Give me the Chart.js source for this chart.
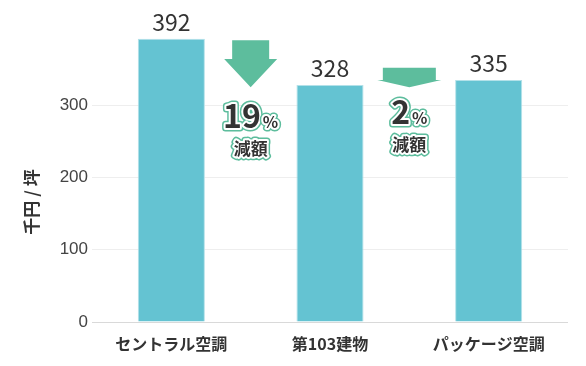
<!DOCTYPE html>
<html lang="ja">
<head>
    <meta charset="UTF-8">
    <title>千円 / 坪</title>
    <script src="https://cdn.jsdelivr.net/npm/chart.js"></script>
    <style>
        body {
            margin: 0;
            background: #ffffff;
        }
        #wrap {
            width: 586px;
            height: 366px;
        }
    </style>
</head>
<body>
<div id="wrap">
    <canvas id="cost-chart" width="586" height="366"></canvas>
</div>
<script>
    // values
    const categories = ["セントラル空調", "第103建物", "パッケージ空調"];
    const costPerTsubo = [392, 328, 335];
    const yTicks = [0, 100, 200, 300];

    // reduction callouts between neighbouring bars
    const reductionPercent = ["19", "2"];
    const reductionWord = "減額";
    const arrowTop = [390, 352];
    const arrowHeadStart = [364, 335];
    const arrowTip = [325, 325];

    const JP = '"Noto Sans CJK JP", "Noto Sans", sans-serif';
    const TEXT = "#333333";
    const GREEN = "#5dbd9d";

    // arrow shapes, in px: shaft half width, head half width, label offset below tip
    const arrowStyle = [
        {shaft: 18.5, head: 26.5, labelDrop: 41},
        {shaft: 26.5, head: 32, labelDrop: 37}
    ];

    function outlinedText(ctx, text, x, y) {
        ctx.lineJoin = "round";
        ctx.strokeStyle = GREEN;
        ctx.lineWidth = 7;
        ctx.strokeText(text, x, y);
        ctx.strokeStyle = "#ffffff";
        ctx.lineWidth = 4;
        ctx.strokeText(text, x, y);
        ctx.fillStyle = TEXT;
        ctx.fillText(text, x, y);
    }

    const callouts = {
        id: "callouts",
        afterDatasetsDraw(chart) {
            const ctx = chart.ctx;
            const xs = chart.scales.x;
            const ys = chart.scales.y;

            // value labels on top of bars
            ctx.save();
            ctx.font = "400 23px " + JP;
            ctx.fillStyle = TEXT;
            ctx.textAlign = "center";
            ctx.textBaseline = "alphabetic";
            chart.getDatasetMeta(0).data.forEach((bar, i) => {
                ctx.fillText(String(costPerTsubo[i]), bar.x, bar.y - 8);
            });
            ctx.restore();

            // arrows and percent labels
            reductionPercent.forEach((pct, i) => {
                const st = arrowStyle[i];
                const cx = xs.getPixelForValue(i + 0.5);
                const top = ys.getPixelForValue(arrowTop[i]);
                const hs = ys.getPixelForValue(arrowHeadStart[i]);
                const tip = ys.getPixelForValue(arrowTip[i]);

                ctx.save();
                ctx.fillStyle = GREEN;
                ctx.beginPath();
                ctx.moveTo(cx - st.shaft, top);
                ctx.lineTo(cx + st.shaft, top);
                ctx.lineTo(cx + st.shaft, hs);
                ctx.lineTo(cx + st.head, hs);
                ctx.lineTo(cx, tip);
                ctx.lineTo(cx - st.head, hs);
                ctx.lineTo(cx - st.shaft, hs);
                ctx.closePath();
                ctx.fill();

                const base = tip + st.labelDrop;
                ctx.textBaseline = "alphabetic";
                ctx.font = "700 32px " + JP;
                const wNum = ctx.measureText(pct).width;
                ctx.font = "700 16px " + JP;
                const wPct = ctx.measureText("%").width;
                const left = cx - (wNum + wPct + 2) / 2;

                ctx.textAlign = "left";
                ctx.font = "700 32px " + JP;
                outlinedText(ctx, pct, left, base);
                ctx.font = "700 16px " + JP;
                outlinedText(ctx, "%", left + wNum + 2, base);

                ctx.textAlign = "center";
                ctx.font = "700 17px " + JP;
                outlinedText(ctx, reductionWord, cx, base + 27);
                ctx.restore();
            });
        },
        afterDraw(chart) {
            // y axis title
            const ctx = chart.ctx;
            ctx.save();
            ctx.translate(32, 202);
            ctx.rotate(-Math.PI / 2);
            ctx.font = "700 17px " + JP;
            ctx.fillStyle = TEXT;
            ctx.textAlign = "center";
            ctx.textBaseline = "middle";
            ctx.fillText("千円 / 坪", 0, 0);
            ctx.restore();
        }
    };

    new Chart(document.getElementById("cost-chart"), {
        type: "bar",
        data: {
            labels: categories,
            datasets: [{
                data: costPerTsubo,
                backgroundColor: "#64c3d2",
                borderColor: "#b3e1e9",
                borderWidth: 1,
                barPercentage: 0.423,
                categoryPercentage: 1
            }]
        },
        options: {
            responsive: false,
            animation: false,
            events: [],
            layout: {
                padding: {top: 33, right: 18, bottom: 0, left: 0}
            },
            plugins: {
                legend: {display: false},
                tooltip: {enabled: false}
            },
            scales: {
                x: {
                    grid: {display: false},
                    border: {display: false},
                    ticks: {
                        color: TEXT,
                        padding: 4,
                        font: {family: JP, size: 16, weight: "700"}
                    },
                    afterFit(scale) { scale.height = 44; }
                },
                y: {
                    min: 0,
                    max: 400,
                    border: {display: false},
                    grid: {
                        drawTicks: false,
                        color: ctx => ctx.tick && ctx.tick.value === 0 ? "#d9d9d9" : "#eeeeee"
                    },
                    ticks: {
                        stepSize: 100,
                        padding: 4,
                        color: "#444444",
                        font: {family: '"Liberation Sans", Arial, sans-serif', size: 17}
                    },
                    afterBuildTicks(scale) {
                        scale.ticks = yTicks.map(v => ({value: v}));
                    },
                    afterFit(scale) { scale.width = 92; }
                }
            }
        },
        plugins: [callouts]
    });
</script>
</body>
</html>
